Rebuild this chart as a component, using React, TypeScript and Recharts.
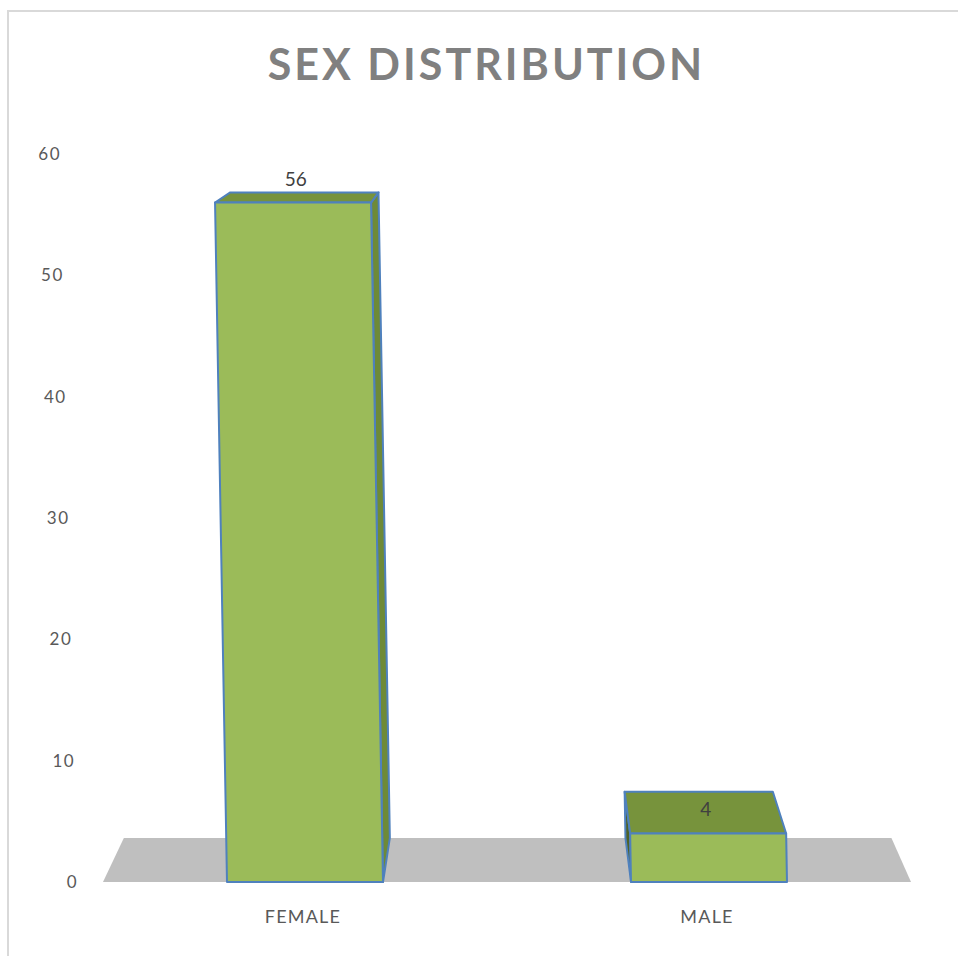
import React from 'react';
import { BarChart, Bar, XAxis, YAxis, CartesianGrid, LabelList } from 'recharts';

const categories = ['FEMALE', 'MALE'];
const counts = [56, 4];
const yTicks = [0, 10, 20, 30, 40, 50, 60];

const data = categories.map((name, i) => ({ name, count: counts[i] }));

// fake 3D: back faces are the front faces pulled toward a vanishing point
const VX = 520;
const VY = 0;
const DEPTH = 0.95;
const SHEAR = 0.0176;

type Pt = [number, number];
const back = ([px, py]: Pt): Pt => [VX + DEPTH * (px - VX), VY + DEPTH * (py - VY)];
const pts = (arr: Pt[]) => arr.map((p) => p.join(',')).join(' ');

const FRONT = '#9BBB59';
const TOP = '#77933C';
const STROKE = '#4F81BD';

function Bar3D(props: any) {
  const { x, y, width, height } = props;
  if (height == null || width == null) return null;
  const bottom = y + height;
  const tl: Pt = [x - SHEAR * height, y];
  const tr: Pt = [x + width - SHEAR * height, y];
  const br: Pt = [x + width, bottom];
  const bl: Pt = [x, bottom];
  const rightSide = x + width / 2 < VX;
  const side = rightSide
    ? [tr, br, back(br), back(tr)]
    : [tl, bl, back(bl), back(tl)];
  return (
    <g>
      <polygon points={pts(side)} fill={rightSide ? '#6E8A37' : '#4E6228'} stroke={STROKE} strokeWidth={2} strokeLinejoin="round" />
      <polygon points={pts([tl, tr, back(tr), back(tl)])} fill={TOP} stroke={STROKE} strokeWidth={2} strokeLinejoin="round" />
      <polygon points={pts([tl, tr, br, bl])} fill={FRONT} stroke={STROKE} strokeWidth={2} strokeLinejoin="round" />
    </g>
  );
}

// the gray floor is drawn from the grid line that sits on the value axis' zero
function FloorLine(props: any) {
  const { x1, y1, x2, y2, y, height } = props;
  if (x1 == null || y == null || Math.abs(y1 - (y + height)) > 1) return <g />;
  const a: Pt = [x1, y1];
  const b: Pt = [x2, y2];
  return <polygon points={pts([a, b, back(b), back(a)])} fill="#BFBFBF" />;
}

function YTick(props: any) {
  const { y, payload } = props;
  return (
    <text x={78 - 0.283 * payload.value} y={y} dy="0.35em" textAnchor="end" fill="#595959"
      fontSize={17} letterSpacing={1.5} fontFamily="Lato">
      {payload.value}
    </text>
  );
}

function XTick(props: any) {
  const { x, y, payload } = props;
  return (
    <text x={x - 2} y={y + 33} textAnchor="middle" fill="#595959" fontSize={18} letterSpacing={1.2} fontFamily="Lato">
      {payload.value}
    </text>
  );
}

function BarLabel(props: any) {
  const { x, y, width, height, value } = props;
  const cx = x + width / 2 - SHEAR * height;
  const bx = back([cx, y])[0];
  return (
    <text x={cx + 0.25 * (bx - cx)} y={y - 17} textAnchor="middle" fill="#404040" fontSize={19} fontFamily="Lato">
      {value}
    </text>
  );
}

export default function App() {
  return (
    <div style={{ position: 'absolute', left: 0, top: 0, width: 958, height: 956, background: '#fff', overflow: 'hidden' }}>
      <div style={{ position: 'absolute', left: 7, top: 10, width: 980, height: 980, border: '2px solid #D9D9D9', boxSizing: 'border-box' }} />
      <div style={{
        position: 'absolute', left: 0, top: 39, width: 973, textAlign: 'center',
        fontFamily: 'Lato', fontWeight: 700, fontSize: 43, letterSpacing: 3, color: '#808080', lineHeight: '50px',
      }}>
        SEX DISTRIBUTION
      </div>
      <BarChart width={958} height={956} data={data} margin={{ top: 154, right: 47, left: 0, bottom: 0 }}
        style={{ position: 'absolute', left: 0, top: 0 }}>
        <CartesianGrid vertical={false} horizontal={FloorLine} stroke="none" />
        <XAxis dataKey="name" height={74} axisLine={false} tickLine={false} tick={XTick} interval={0} />
        <YAxis width={103} domain={[0, 60]} ticks={yTicks} axisLine={false} tickLine={false} tick={YTick} />
        <Bar dataKey="count" barSize={156} shape={Bar3D} isAnimationActive={false}>
          <LabelList dataKey="count" content={BarLabel} />
        </Bar>
      </BarChart>
    </div>
  );
}
